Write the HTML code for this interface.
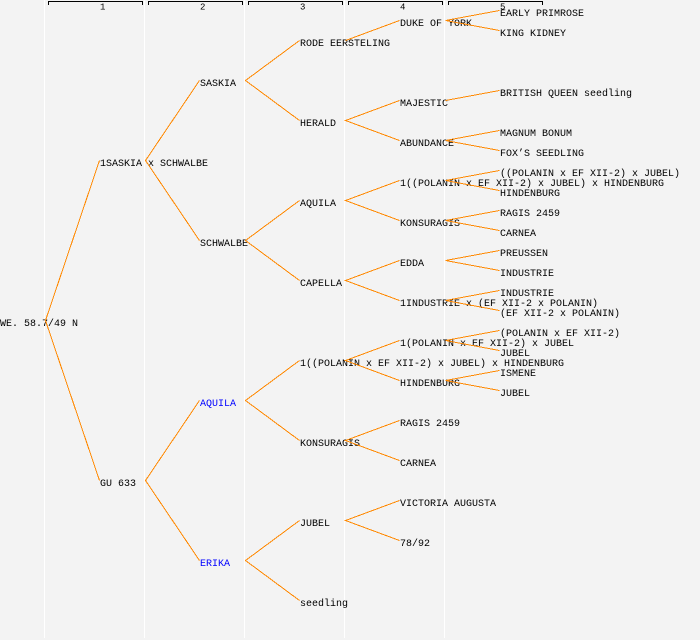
<!DOCTYPE html>
<html><head><meta charset="utf-8"><style>
html,body{margin:0;padding:0;background:#f3f3f3;}
svg{display:block;}
text{font-family:"Liberation Mono","DejaVu Sans Mono",monospace;font-size:10px;fill:#000;}
.h{font-size:9px;}
.b{fill:#0000ff;}
</style></head><body>
<svg width="700" height="640" viewBox="0 0 700 640" xmlns="http://www.w3.org/2000/svg">
<rect x="0" y="0" width="700" height="640" fill="#f3f3f3"/>
<g stroke="#ffffff" stroke-width="1" shape-rendering="crispEdges">
<line x1="44.5" y1="0" x2="44.5" y2="638"/>
<line x1="144.5" y1="0" x2="144.5" y2="638"/>
<line x1="244.5" y1="0" x2="244.5" y2="638"/>
<line x1="344.5" y1="0" x2="344.5" y2="638"/>
<line x1="444.5" y1="0" x2="444.5" y2="638"/>
</g>
<g stroke="#000" stroke-width="1" fill="none" shape-rendering="crispEdges">
<path d="M48.5 5V1.5H142.5V5"/>
<path d="M148.5 5V1.5H242.5V5"/>
<path d="M248.5 5V1.5H342.5V5"/>
<path d="M348.5 5V1.5H442.5V5"/>
<path d="M448.5 5V1.5H542.5V5"/>
</g>
<text class="h" x="100" y="9.5">1</text>
<text class="h" x="200" y="9.5">2</text>
<text class="h" x="300" y="9.5">3</text>
<text class="h" x="400" y="9.5">4</text>
<text class="h" x="500" y="9.5">5</text>

<!-- root -->
<text x="0" y="326">WE. 58.7/49 N</text>
<!-- col1 -->
<text x="100" y="166">1SASKIA x SCHWALBE</text>
<text x="100" y="486">GU 633</text>
<!-- col2 -->
<text x="200" y="86">SASKIA</text>
<text x="200" y="246">SCHWALBE</text>
<text x="200" y="406" class="b">AQUILA</text>
<text x="200" y="566" class="b">ERIKA</text>
<!-- col3 -->
<text x="300" y="46">RODE EERSTELING</text>
<text x="300" y="126">HERALD</text>
<text x="300" y="206">AQUILA</text>
<text x="300" y="286">CAPELLA</text>
<text x="300" y="366">1((POLANIN x EF XII-2) x JUBEL) x HINDENBURG</text>
<text x="300" y="446">KONSURAGIS</text>
<text x="300" y="526">JUBEL</text>
<text x="300" y="606">seedling</text>
<!-- col4 -->
<text x="400" y="26">DUKE OF YORK</text>
<text x="400" y="106">MAJESTIC</text>
<text x="400" y="146">ABUNDANCE</text>
<text x="400" y="186">1((POLANIN x EF XII-2) x JUBEL) x HINDENBURG</text>
<text x="400" y="226">KONSURAGIS</text>
<text x="400" y="266">EDDA</text>
<text x="400" y="306">1INDUSTRIE x (EF XII-2 x POLANIN)</text>
<text x="400" y="346">1(POLANIN x EF XII-2) x JUBEL</text>
<text x="400" y="386">HINDENBURG</text>
<text x="400" y="426">RAGIS 2459</text>
<text x="400" y="466">CARNEA</text>
<text x="400" y="506">VICTORIA AUGUSTA</text>
<text x="400" y="546">78/92</text>
<!-- col5 -->
<text x="500" y="16">EARLY PRIMROSE</text>
<text x="500" y="36">KING KIDNEY</text>
<text x="500" y="96">BRITISH QUEEN seedling</text>
<text x="500" y="136">MAGNUM BONUM</text>
<text x="500" y="156">FOX’S SEEDLING</text>
<text x="500" y="176">((POLANIN x EF XII-2) x JUBEL)</text>
<text x="500" y="196">HINDENBURG</text>
<text x="500" y="216">RAGIS 2459</text>
<text x="500" y="236">CARNEA</text>
<text x="500" y="256">PREUSSEN</text>
<text x="500" y="276">INDUSTRIE</text>
<text x="500" y="296">INDUSTRIE</text>
<text x="500" y="316">(EF XII-2 x POLANIN)</text>
<text x="500" y="336">(POLANIN x EF XII-2)</text>
<text x="500" y="356">JUBEL</text>
<text x="500" y="376">ISMENE</text>
<text x="500" y="396">JUBEL</text>

<g stroke="#ff8800" stroke-width="1" fill="none" shape-rendering="crispEdges">
<polyline points="99.5,160.5 45.5,320.5 99.5,480.5"/>
<polyline points="199.5,80.5 145.5,160.5 199.5,240.5"/>
<polyline points="199.5,400.5 145.5,480.5 199.5,560.5"/>
<polyline points="299.5,40.5 245.5,80.5 299.5,120.5"/>
<polyline points="299.5,200.5 245.5,240.5 299.5,280.5"/>
<polyline points="299.5,360.5 245.5,400.5 299.5,440.5"/>
<polyline points="299.5,520.5 245.5,560.5 299.5,600.5"/>
<polyline points="345.5,40.5 399.5,20.5"/>
<polyline points="399.5,100.5 345.5,120.5 399.5,140.5"/>
<polyline points="399.5,180.5 345.5,200.5 399.5,220.5"/>
<polyline points="399.5,260.5 345.5,280.5 399.5,300.5"/>
<polyline points="399.5,340.5 345.5,360.5 399.5,380.5"/>
<polyline points="399.5,420.5 345.5,440.5 399.5,460.5"/>
<polyline points="399.5,500.5 345.5,520.5 399.5,540.5"/>
<polyline points="499.5,10.5 445.5,20.5 499.5,30.5"/>
<polyline points="445.5,100.5 499.5,90.5"/>
<polyline points="499.5,130.5 445.5,140.5 499.5,150.5"/>
<polyline points="499.5,170.5 445.5,180.5 499.5,190.5"/>
<polyline points="499.5,210.5 445.5,220.5 499.5,230.5"/>
<polyline points="499.5,250.5 445.5,260.5 499.5,270.5"/>
<polyline points="499.5,290.5 445.5,300.5 499.5,310.5"/>
<polyline points="499.5,330.5 445.5,340.5 499.5,350.5"/>
<polyline points="499.5,370.5 445.5,380.5 499.5,390.5"/>
</g>
</svg>
</body></html>
